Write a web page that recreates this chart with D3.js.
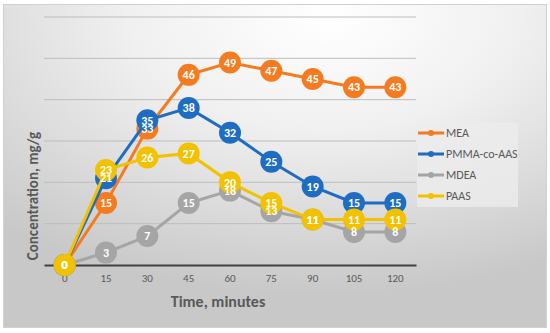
<!DOCTYPE html>
<html>
<head>
<meta charset="utf-8">
<script src="https://cdn.jsdelivr.net/npm/d3@7"></script>
<style>
  body { margin: 0; background: #fff; }
  text { font-family: Calibri, Carlito, "Open Sans", sans-serif; }
</style>
</head>
<body>
<svg width="550" height="333"></svg>
<script>
// data
var times = [0, 15, 30, 45, 60, 75, 90, 105, 120];
var seriesNames = ["MEA", "PMMA-co-AAS", "MDEA", "PAAS"];
var seriesColors = ["#F47B20", "#1F6DC2", "#A5A5A5", "#F2C200"];
var mea = [0, 15, 33, 46, 49, 47, 45, 43, 43];
var pmma = [0, 21, 35, 38, 32, 25, 19, 15, 15];
var mdea = [0, 3, 7, 15, 18, 13, 11, 8, 8];
var paas = [0, 23, 26, 27, 20, 15, 11, 11, 11];
var yTicks = [0, 10, 20, 30, 40, 50, 60];

var series = [mea, pmma, mdea, paas].map(function (v, i) {
  return { name: seriesNames[i], color: seriesColors[i], values: v };
});

var svg = d3.select("svg");

// background
var defs = svg.append("defs");
var grad = defs.append("radialGradient")
    .attr("id", "bg")
    .attr("cx", "58%").attr("cy", "0%").attr("r", "90%")
    .attr("fx", "60%").attr("fy", "5%");
grad.append("stop").attr("offset", "0%").attr("stop-color", "#ffffff");
grad.append("stop").attr("offset", "40%").attr("stop-color", "#f0f0f0");
grad.append("stop").attr("offset", "100%").attr("stop-color", "#c8c8c8");

svg.append("rect")
    .attr("x", 3.5).attr("y", 4.5).attr("width", 543).attr("height", 323)
    .attr("fill", "url(#bg)")
    .attr("stroke", "#d0d0d0").attr("stroke-width", 1);

// scales
var x = d3.scaleBand().domain(times).range([44, 416]);
var y = d3.scaleLinear().domain([0, 60]).range([265, 17]);
var cx = function (t) { return x(t) + x.bandwidth() / 2; };

// grid
svg.append("g").selectAll("line")
    .data(yTicks.slice(1))
    .enter().append("line")
    .attr("x1", 44).attr("x2", 416)
    .attr("y1", function (d) { return y(d); })
    .attr("y2", function (d) { return y(d); })
    .attr("stroke", "#bdbdbd").attr("stroke-width", 1);

// x axis
var xAxis = svg.append("g")
    .attr("transform", "translate(0," + y(0) + ")")
    .call(d3.axisBottom(x).tickSize(0).tickPadding(9));
xAxis.select(".domain").attr("stroke", "#404040").attr("stroke-width", 2);
xAxis.selectAll("text")
    .attr("fill", "#595959")
    .style("font-size", "11px")
    .style("font-family", "Calibri, Carlito, 'Open Sans', sans-serif");

// axis titles
svg.append("text")
    .attr("x", 218).attr("y", 307)
    .attr("text-anchor", "middle")
    .attr("fill", "#595959")
    .style("font-size", "16px").style("font-weight", "bold")
    .text("Time, minutes");

svg.append("text")
    .attr("transform", "translate(38,196) rotate(-90)")
    .attr("text-anchor", "middle")
    .attr("fill", "#595959")
    .style("font-size", "15px").style("font-weight", "bold")
    .text("Concentration, mg/g");

// lines and markers
var line = d3.line()
    .x(function (d, i) { return cx(times[i]); })
    .y(function (d) { return y(d); });

series.forEach(function (s) {
  var g = svg.append("g");
  g.append("path")
      .datum(s.values)
      .attr("d", line)
      .attr("fill", "none")
      .attr("stroke", s.color)
      .attr("stroke-width", 3);
  g.selectAll("circle")
      .data(s.values)
      .enter().append("circle")
      .attr("cx", function (d, i) { return cx(times[i]); })
      .attr("cy", function (d) { return y(d); })
      .attr("r", 11)
      .attr("fill", s.color);
});

// data labels drawn above every marker
series.forEach(function (s) {
  svg.append("g").selectAll("text")
      .data(s.values)
      .enter().append("text")
      .attr("x", function (d, i) { return cx(times[i]); })
      .attr("y", function (d) { return y(d); })
      .attr("text-anchor", "middle")
      .attr("dy", "0.35em")
      .attr("fill", "#ffffff")
      .style("font-size", "12px").style("font-weight", "bold")
      .text(function (d) { return d; });
});

// legend
var lg = svg.append("g");
lg.append("rect")
    .attr("x", 417).attr("y", 123).attr("width", 101).attr("height", 84)
    .attr("fill", "#ececec").attr("opacity", 0.8);
var items = lg.selectAll("g.item")
    .data(series)
    .enter().append("g")
    .attr("transform", function (d, i) { return "translate(418," + (133 + i * 21) + ")"; });
items.append("line")
    .attr("x1", 0).attr("x2", 26)
    .attr("stroke", function (d) { return d.color; })
    .attr("stroke-width", 3);
items.append("circle")
    .attr("cx", 13).attr("r", 3)
    .attr("fill", function (d) { return d.color; });
items.append("text")
    .attr("x", 28).attr("dy", "0.35em")
    .attr("fill", "#595959")
    .style("font-size", "12px")
    .text(function (d) { return d.name; });
</script>
</body>
</html>
